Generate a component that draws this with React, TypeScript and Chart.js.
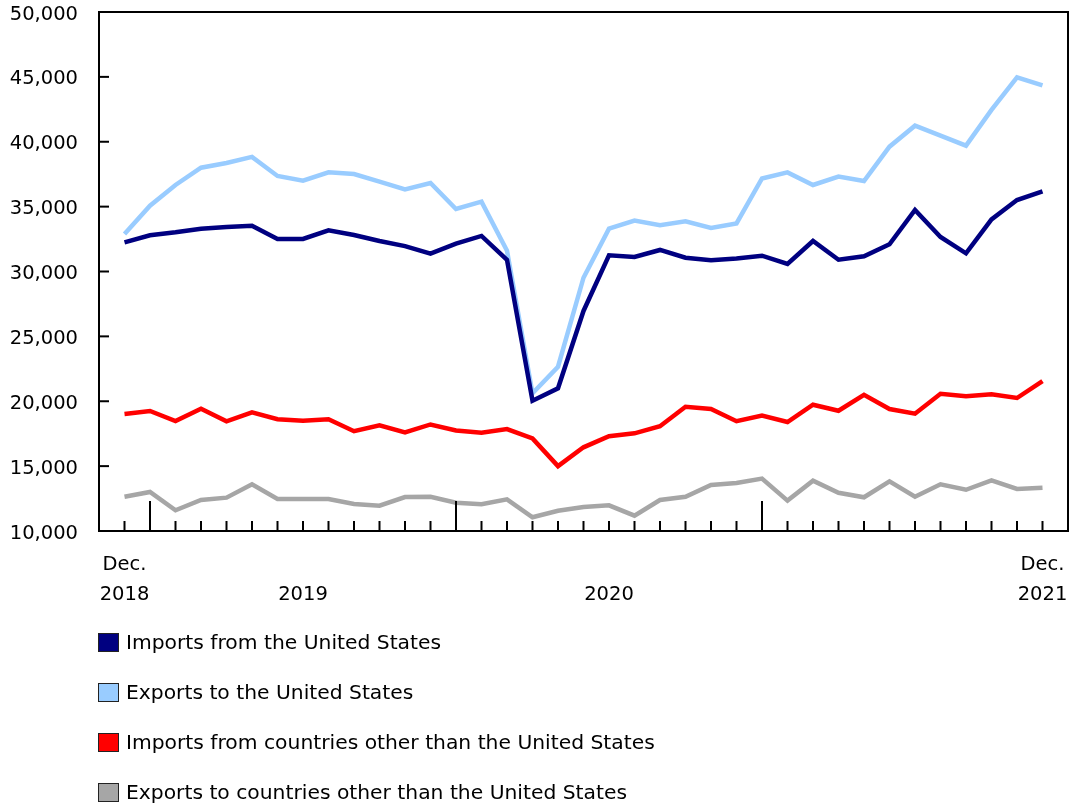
import React, { useEffect, useRef } from "react";
import { Chart, registerables } from "chart.js";

Chart.register(...registerables);

// ---- Data (millions of dollars), Dec. 2018 to Dec. 2021 ----
const months = [
  "Dec. 2018",
  "Jan. 2019", "Feb. 2019", "Mar. 2019", "Apr. 2019", "May 2019", "June 2019",
  "July 2019", "Aug. 2019", "Sept. 2019", "Oct. 2019", "Nov. 2019", "Dec. 2019",
  "Jan. 2020", "Feb. 2020", "Mar. 2020", "Apr. 2020", "May 2020", "June 2020",
  "July 2020", "Aug. 2020", "Sept. 2020", "Oct. 2020", "Nov. 2020", "Dec. 2020",
  "Jan. 2021", "Feb. 2021", "Mar. 2021", "Apr. 2021", "May 2021", "June 2021",
  "July 2021", "Aug. 2021", "Sept. 2021", "Oct. 2021", "Nov. 2021", "Dec. 2021",
];

const importsFromUS = [
  32250, 32790, 33020, 33300, 33430, 33530, 32505, 32505, 33170, 32810, 32350, 31960, 31380,
  32150, 32740, 30890, 20040, 21000, 26960, 31250, 31120, 31660, 31060, 30860, 31010,
  31220, 30580, 32350, 30910, 31170, 32100, 34740, 32660, 31400, 34020, 35510, 36180,
];

const exportsToUS = [
  32890, 35070, 36670, 38000, 38360, 38830, 37360, 37000, 37640, 37510, 36920, 36330, 36820,
  34820, 35380, 31600, 20610, 22660, 29520, 33300, 33920, 33560, 33870, 33350, 33710,
  37170, 37640, 36670, 37310, 36970, 39620, 41240, 40470, 39700, 42450, 44960, 44340,
];

const importsFromOther = [
  19020, 19250, 18480, 19430, 18450, 19150, 18610, 18500, 18610, 17690, 18150, 17600, 18210,
  17750, 17570, 17860, 17140, 15000, 16450, 17300, 17530, 18070, 19580, 19400, 18460,
  18890, 18400, 19730, 19270, 20500, 19400, 19040, 20580, 20380, 20540, 20250, 21560,
];

const exportsToOther = [
  12640, 13010, 11600, 12390, 12570, 13600, 12470, 12470, 12470, 12080, 11950, 12620, 12630,
  12180, 12060, 12440, 11060, 11560, 11850, 11980, 11180, 12390, 12640, 13550, 13700,
  14040, 12340, 13880, 12950, 12600, 13830, 12640, 13600, 13180, 13910, 13240, 13340,
];

const seriesNames = [
  "Imports from the United States",
  "Exports to the United States",
  "Imports from countries other than the United States",
  "Exports to countries other than the United States",
];
const seriesColors = ["#000080", "#99ccff", "#ff0000", "#a6a6a6"];

const xLabelIndex = [0, 7, 19, 36];
const xLabelText = [["Dec.", "2018"], ["", "2019"], ["", "2020"], ["Dec.", "2021"]];
const yearStartIndex = [1, 13, 25];
const yTickValues = [10000, 15000, 20000, 25000, 30000, 35000, 40000, 45000, 50000];

const FONT = "'DejaVu Sans', Verdana, sans-serif";
const FONT_SIZE = 19.5;
const LEGEND_FONT_SIZE = 20.3;

const framePlugin = {
  id: "frameTicks",
  afterDatasetsDraw(chart: any) {
    const { ctx, chartArea, scales } = chart;
    const { left, right, top, bottom } = chartArea;
    const x = scales.x;
    const y = scales.y;
    ctx.save();
    ctx.strokeStyle = "#000";
    ctx.lineWidth = 2;
    ctx.strokeRect(left, top, right - left, bottom - top);
    yTickValues.forEach((v) => {
      const py = y.getPixelForValue(v);
      ctx.beginPath();
      ctx.moveTo(left, py);
      ctx.lineTo(left + 10, py);
      ctx.stroke();
    });
    months.forEach((_, i) => {
      const px = x.getPixelForValue(i);
      const len = yearStartIndex.includes(i) ? 30 : 10;
      ctx.beginPath();
      ctx.moveTo(px, bottom);
      ctx.lineTo(px, bottom - len);
      ctx.stroke();
    });
    ctx.restore();
  },
};

export default function App() {
  const ref = useRef<HTMLCanvasElement | null>(null);

  useEffect(() => {
    if (!ref.current) return;
    const series = [importsFromUS, exportsToUS, importsFromOther, exportsToOther];
    const chart = new Chart(ref.current, {
      type: "line",
      data: {
        datasets: series.map((vals, k) => ({
          label: seriesNames[k],
          data: vals.map((v, i) => ({ x: i, y: v })),
          borderColor: seriesColors[k],
          backgroundColor: seriesColors[k],
          borderWidth: 4.5,
          pointRadius: 0,
          tension: 0,
          fill: false,
        })),
      },
      options: {
        animation: false,
        responsive: false,
        maintainAspectRatio: false,
        layout: { padding: { top: 12, right: 4, left: 0, bottom: 0 } },
        plugins: {
          legend: { display: false },
          tooltip: { enabled: false },
        },
        scales: {
          x: {
            type: "linear",
            min: -1,
            max: 37,
            grid: { display: false, drawTicks: false },
            border: { display: false },
            afterBuildTicks: (a: any) => {
              a.ticks = xLabelIndex.map((v) => ({ value: v }));
            },
            afterFit: (a: any) => {
              a.height = 274;
              a.paddingLeft = 0;
              a.paddingRight = 0;
            },
            ticks: {
              autoSkip: false,
              maxRotation: 0,
              minRotation: 0,
              padding: 19,
              color: "#000",
              font: { family: FONT, size: FONT_SIZE, lineHeight: 1.55 },
              callback: (v: any) => {
                const k = xLabelIndex.indexOf(Number(v));
                return k >= 0 ? xLabelText[k] : "";
              },
            },
          },
          y: {
            type: "linear",
            min: 10000,
            max: 50000,
            grid: { display: false, drawTicks: false },
            border: { display: false },
            afterBuildTicks: (a: any) => {
              a.ticks = yTickValues.map((v) => ({ value: v }));
            },
            afterFit: (a: any) => {
              a.width = 99;
              a.paddingTop = 0;
              a.paddingBottom = 0;
            },
            ticks: {
              padding: 21,
              labelOffset: 2.5,
              color: "#000",
              font: { family: FONT, size: FONT_SIZE },
              callback: (v: any) => Number(v).toLocaleString("en-US"),
            },
          },
        },
      },
      plugins: [framePlugin],
    } as any);
    return () => chart.destroy();
  }, []);

  return (
    <div style={{ position: "absolute", left: 0, top: 0, width: 1072, height: 805, background: "#fff" }}>
      <canvas ref={ref} width={1072} height={805} style={{ display: "block", width: 1072, height: 805 }} />
      {seriesNames.map((name, k) => (
        <div
          key={name}
          style={{
            position: "absolute",
            left: 98,
            top: 632 + 50 * k,
            height: 20,
            display: "flex",
            alignItems: "center",
            fontFamily: FONT,
            fontSize: LEGEND_FONT_SIZE,
            lineHeight: "20px",
            color: "#000",
            whiteSpace: "nowrap",
          }}
        >
          <span
            style={{
              display: "inline-block",
              flex: "none",
              width: 19,
              height: 17,
              background: seriesColors[k],
              border: "1.5px solid #222",
              marginRight: 7,
            }}
          />
          <span>{name}</span>
        </div>
      ))}
    </div>
  );
}
